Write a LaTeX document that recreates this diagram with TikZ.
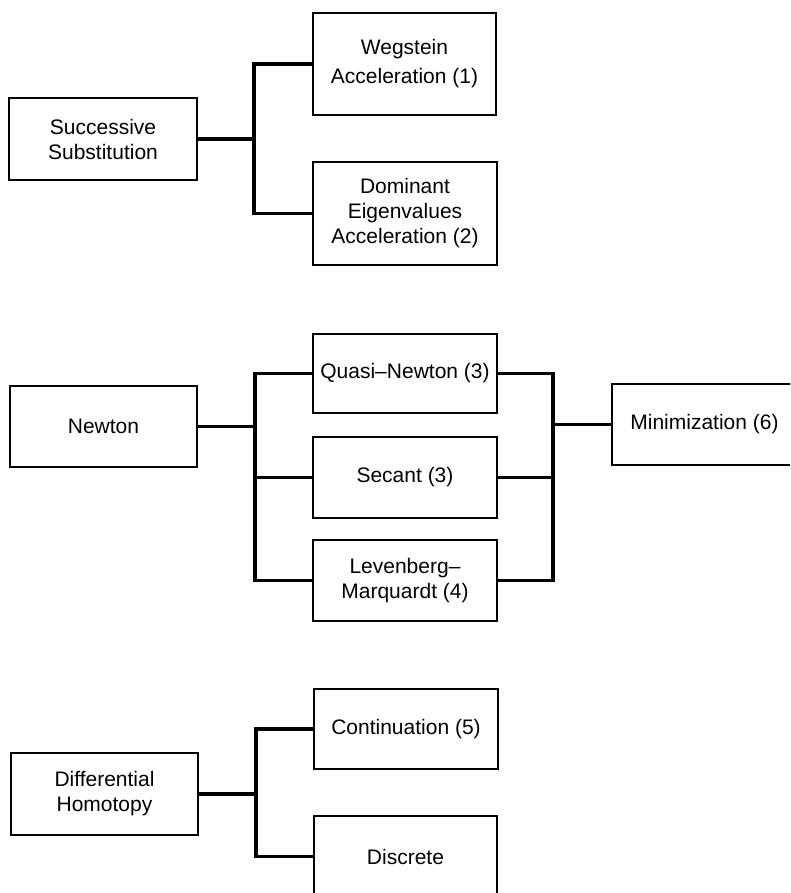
\documentclass[tikz,border=0pt]{standalone}
\usepackage{fontspec}
\setmainfont{Liberation Sans}
\begin{document}
\begin{tikzpicture}[x=1pt,y=-1pt,
  box/.style={draw=black,line width=1.6pt,inner sep=0pt,align=center,
    font=\fontsize{21}{25}\selectfont},
  link/.style={line width=3.2pt,line cap=rect,line join=miter}]
\useasboundingbox (0,0) rectangle (790,893);
\clip (0,0) rectangle (790,893);
% group 1
\node[box,minimum width=188pt,minimum height=82pt] (ss) at (103,139) {Successive\\Substitution};
\node[box,minimum width=183pt,minimum height=102pt] (weg) at (404.5,64) {Wegstein\\[4pt]Acceleration (1)};
\node[box,minimum width=184pt,minimum height=103pt] (dom) at (405,213.5) {Dominant\\Eigenvalues\\Acceleration (2)};
% group 2
\node[box,minimum width=187pt,minimum height=81pt] (newton) at (103.5,426.5) {Newton};
\node[box,minimum width=184pt,minimum height=79pt] (quasi) at (405,373.5) {Quasi–Newton (3)};
\node[box,minimum width=184pt,minimum height=81pt] (secant) at (405,477.5) {Secant (3)};
\node[box,minimum width=184pt,minimum height=81pt] (leven) at (405,580.5) {Levenberg–\\Marquardt (4)};
\node[box,minimum width=185pt,minimum height=81pt] (mini) at (704.5,424.5) {Minimization (6)};
% group 3
\node[box,minimum width=187pt,minimum height=82pt] (diff) at (104.5,794) {Differential\\Homotopy};
\node[box,minimum width=184pt,minimum height=80pt] (cont) at (406,729) {Continuation (5)};
\node[box,minimum width=183pt,minimum height=81pt] (disc) at (405.5,856.5) {Discrete};
% bus positions
\coordinate (b1) at (254,0);
\coordinate (b2) at (255,0);
\coordinate (b3) at (553,0);
\coordinate (b4) at (256,0);
% connectors group 1
\draw[link] (ss.east) -- (ss.east -| b1);
\draw[link] (weg.west) -| (b1 |- dom.west) -- (dom.west);
% connectors group 2
\draw[link] (newton.east) -- (newton.east -| b2);
\draw[link] (quasi.west) -| (b2 |- leven.west) -- (leven.west);
\draw[link] (secant.west) -- (secant.west -| b2);
\draw[link] (quasi.east) -| (b3 |- leven.east) -- (leven.east);
\draw[link] (secant.east) -- (secant.east -| b3);
\draw[link] (mini.west) -- (mini.west -| b3);
% connectors group 3
\draw[link] (diff.east) -- (diff.east -| b4);
\draw[link] (cont.west) -| (b4 |- disc.west) -- (disc.west);
\end{tikzpicture}
\end{document}
